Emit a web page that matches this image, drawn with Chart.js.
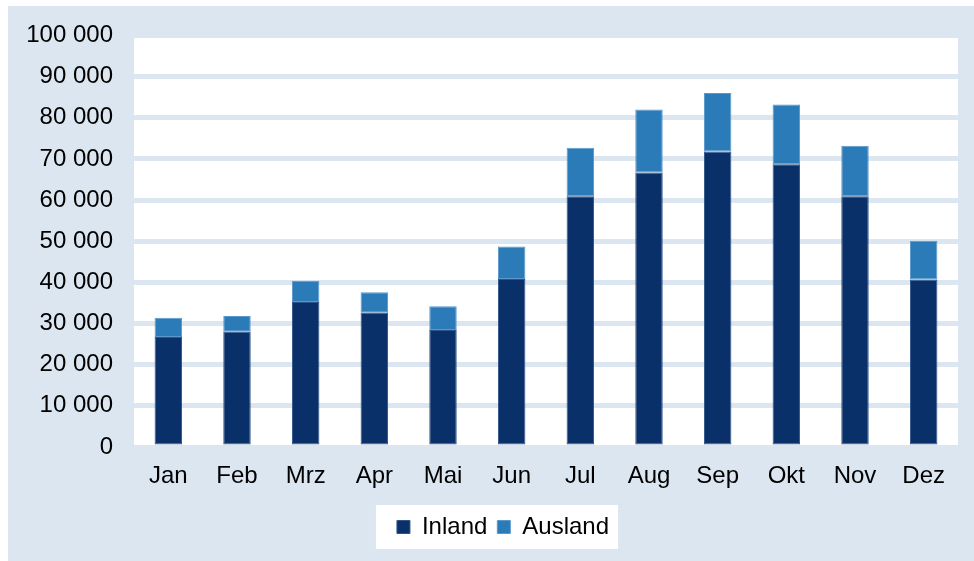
<!DOCTYPE html>
<html>
<head>
<meta charset="utf-8">
<script src="https://cdn.jsdelivr.net/npm/chart.js@4/dist/chart.umd.min.js"></script>
<style>
  html, body { margin: 0; padding: 0; background: #ffffff; }
  #wrap { width: 974px; height: 561px; position: relative; }
</style>
</head>
<body>
<div id="wrap"><canvas id="c" width="974" height="561"></canvas></div>
<script>
const categories = ['Jan', 'Feb', 'Mrz', 'Apr', 'Mai', 'Jun', 'Jul', 'Aug', 'Sep', 'Okt', 'Nov', 'Dez'];
const inland  = [26700, 28000, 35200, 32600, 28400, 40800, 60900, 66700, 71800, 68700, 60900, 40700];
const ausland = [4700, 3800, 5200, 5000, 5800, 7900, 11800, 15300, 14200, 14500, 12300, 9400];
const seriesNames = ['Inland', 'Ausland'];
const yTicksMax = 100000;
const yTickStep = 10000;

const BG = '#dce6f0';
const NAVY = '#0a306a';
const LIGHT = '#2c7bb9';
const FONT = "'Liberation Sans', Arial, sans-serif";

function fmt(v) {
  return String(v).replace(/\B(?=(\d{3})+(?!\d))/g, ' ');
}

const legendShift = 20;

const bgPlugin = {
  id: 'bgPlugin',
  afterLayout(chart) {
    const lg = chart.legend;
    if (lg) { lg.left += legendShift; lg.right += legendShift; }
  },
  beforeDraw(chart) {
    const ctx = chart.ctx;
    const ca = chart.chartArea;
    ctx.save();
    ctx.fillStyle = '#ffffff';
    ctx.fillRect(0, 0, chart.width, chart.height);
    ctx.fillStyle = BG;
    ctx.fillRect(8, 6, chart.width - 8, chart.height - 6);
    ctx.fillStyle = '#ffffff';
    ctx.fillRect(ca.left, ca.top, ca.right - ca.left, ca.bottom - ca.top);
    const lg = chart.legend;
    if (lg && lg.lineWidths) {
      const pad = lg.options.labels.padding;
      const x0 = (lg.left + pad + lg.right - lg.lineWidths[0]) / 2;
      ctx.fillRect(x0 - 21, lg.top, lg.lineWidths[0] + 20, lg.height);
    }
    ctx.restore();
  }
};

new Chart(document.getElementById('c'), {
  type: 'bar',
  data: {
    labels: categories,
    datasets: [
      { label: seriesNames[0], data: inland, backgroundColor: NAVY, borderColor: '#2f5489', borderWidth: 1, borderSkipped: false },
      { label: seriesNames[1], data: ausland, backgroundColor: LIGHT, borderColor: '#5a97cc', borderWidth: 1, borderSkipped: false }
    ]
  },
  options: {
    responsive: false,
    animation: false,
    devicePixelRatio: 1,
    layout: { padding: { left: 8, right: 16, top: 34.5, bottom: 12 } },
    datasets: { bar: { categoryPercentage: 1.0, barPercentage: 0.4 } },
    scales: {
      x: {
        stacked: true,
        grid: { display: false, drawTicks: false },
        border: { display: false },
        ticks: { color: '#000', font: { family: FONT, size: 24 }, padding: 15 },
        afterFit(s) { s.height = 58; }
      },
      y: {
        stacked: true,
        min: 0,
        max: yTicksMax,
        grid: { color: BG, lineWidth: 5, drawTicks: false },
        border: { display: false },
        ticks: { stepSize: yTickStep, color: '#000', font: { family: FONT, size: 24 }, padding: 21, callback: (v) => fmt(v) },
        afterFit(s) { s.width = 126; }
      }
    },
    plugins: {
      legend: {
        position: 'bottom',
        labels: { boxWidth: 13, boxHeight: 13, padding: 10, color: '#000', font: { family: FONT, size: 24 } }
      },
      tooltip: { enabled: false }
    }
  },
  plugins: [bgPlugin]
});
</script>
</body>
</html>
